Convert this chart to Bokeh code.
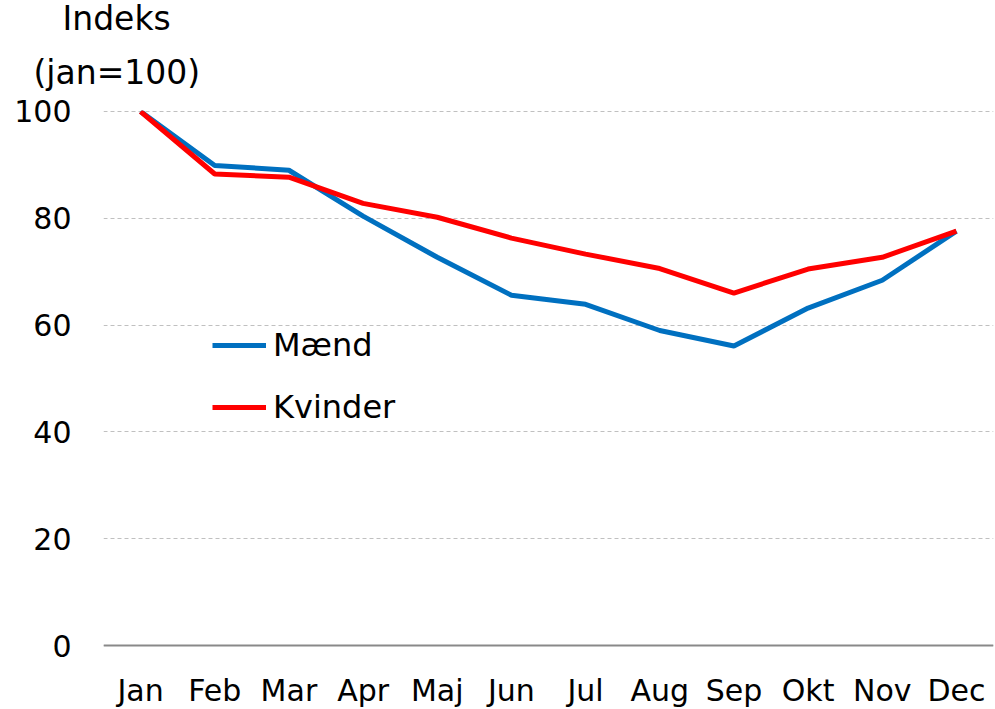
from bokeh.plotting import figure
from bokeh.models import Range1d, FactorRange, Legend, LegendItem, Title, Span, ColumnDataSource
from bokeh.core.properties import value
from bokeh.embed import file_html
from bokeh.resources import INLINE

months = ["Jan", "Feb", "Mar", "Apr", "Maj", "Jun", "Jul", "Aug", "Sep", "Okt", "Nov", "Dec"]
maend = [100, 89.9, 89.0, 80.4, 72.7, 65.6, 63.9, 59.0, 56.1, 63.2, 68.4, 77.6]
kvinder = [100, 88.3, 87.7, 82.8, 80.2, 76.3, 73.3, 70.6, 66.0, 70.5, 72.7, 77.6]
y_ticks = [0, 20, 40, 60, 80, 100]

FONT = "DejaVu Sans"
PX = 5.35  # pixels per index unit

src = ColumnDataSource(dict(m=months, a=maend, b=kvinder,
                            ly=[-45 / PX] * len(months)))

p = figure(width=995, height=709, x_range=FactorRange(*months, range_padding=0),
           y_range=Range1d(-64 / PX, 100 + 1 / PX), output_backend="svg", toolbar_location=None,
           min_border_left=103, min_border_right=2, min_border_top=110, min_border_bottom=0)
p.outline_line_color = None
p.background_fill_color = "white"
p.border_fill_color = "white"

p.xaxis.visible = False
p.xgrid.grid_line_color = None
p.ygrid.grid_line_color = "#C0C0C0"
p.ygrid.grid_line_dash = "4 3"
p.ygrid.grid_line_width = 1

p.yaxis.ticker = y_ticks
p.yaxis.axis_line_color = None
p.yaxis.major_tick_line_color = None
p.yaxis.minor_tick_line_color = None
p.yaxis.major_label_text_font = FONT
p.yaxis.major_label_text_font_size = "30px"
p.yaxis.major_label_text_color = "black"
p.yaxis.major_label_standoff = 26

p.add_layout(Span(location=0, dimension="width", line_color="#898989", line_width=2))

l1 = p.line("m", "a", source=src, line_color="#0070C0", line_width=5)
l2 = p.line("m", "b", source=src, line_color="#FF0000", line_width=5)

p.text(x="m", y="ly", text="m", source=src, text_align="center",
       text_baseline="middle", text_font=value(FONT),
       text_font_size="30px", text_color="black")

legend = Legend(items=[LegendItem(label="Mænd", renderers=[l1]),
                       LegendItem(label="Kvinder", renderers=[l2])],
                location=(109, 283), border_line_color=None, background_fill_alpha=0,
                margin=0, padding=0, spacing=24, glyph_width=54, glyph_height=38,
                label_height=38, label_standoff=7,
                label_text_font=FONT, label_text_font_size="32px", label_text_color="black")
p.add_layout(legend, "center")

p.add_layout(Title(text="(jan=100)", align="left", offset=-70, standoff=38,
                   text_font=FONT, text_font_size="33px", text_font_style="normal",
                   text_color="black"), "above")
p.add_layout(Title(text="Indeks", align="left", offset=-41, standoff=-12,
                   text_font=FONT, text_font_size="33px", text_font_style="normal",
                   text_color="black"), "above")

open("out.html", "w").write(file_html(p, INLINE))
